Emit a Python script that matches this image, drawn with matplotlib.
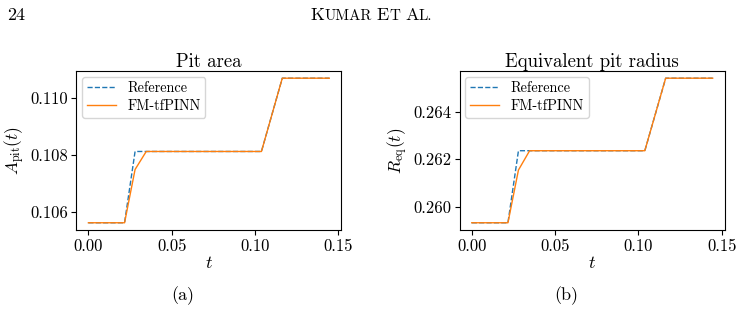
import numpy as np
import matplotlib
matplotlib.use("Agg")
import matplotlib.pyplot as plt

plt.rcParams['font.family'] = 'serif'
plt.rcParams['font.serif'] = ['cmr10', 'DejaVu Serif']
plt.rcParams['mathtext.fontset'] = 'cm'
plt.rcParams['axes.formatter.use_mathtext'] = True
plt.rcParams['axes.unicode_minus'] = False

# values
t_ref = [0.0, 0.0217, 0.028, 0.1038, 0.1163, 0.1445]
t_fm = [0.0, 0.0217, 0.028, 0.0347, 0.1038, 0.1163, 0.1445]

area_ref = [0.10563, 0.10563, 0.10812, 0.10812, 0.11068, 0.11068]
area_fm = [0.10563, 0.10563, 0.10749, 0.10812, 0.10812, 0.11068, 0.11068]

radius_ref = [0.25934, 0.25934, 0.26236, 0.26236, 0.26540, 0.26540]
radius_fm = [0.25934, 0.25934, 0.26155, 0.26236, 0.26236, 0.26540, 0.26540]

xticks = [0.00, 0.05, 0.10, 0.15]
area_ticks = [0.106, 0.108, 0.110]
radius_ticks = [0.260, 0.262, 0.264]

fig = plt.figure(figsize=(7.44, 3.11), dpi=100)
ax1 = fig.add_axes([0.1026, 0.2605, 0.3562, 0.5113])
ax2 = fig.add_axes([0.6179, 0.2605, 0.3562, 0.5113])

panels = [
    (ax1, area_ref, area_fm, area_ticks, "Pit area", r"$A_{\mathrm{pit}}(t)$"),
    (ax2, radius_ref, radius_fm, radius_ticks, "Equivalent pit radius", r"$R_{\mathrm{eq}}(t)$"),
]

for ax, yref, yfm, yt, title, ylab in panels:
    ax.plot(t_ref, yref, ls='--', c='#1f77b4', lw=1.0, label="Reference")
    ax.plot(t_fm, yfm, c='#ff7f0e', lw=1.0, label="FM-tfPINN")
    ax.set_xticks(xticks)
    ax.set_xticklabels(["0.00", "0.05", "0.10", "0.15"])
    ax.set_yticks(yt)
    ax.set_yticklabels(["%.3f" % v for v in yt])
    ax.tick_params(labelsize=12, length=3.5, pad=2.5)
    ax.set_title(title, fontsize=13.5, pad=3)
    ax.set_xlabel(r"$t$", fontsize=13, labelpad=1)
    ax.set_ylabel(ylab, fontsize=12.5, labelpad=2)
    ax.legend(loc='upper left', fontsize=10.3, handlelength=2.0,
              borderaxespad=0.4, labelspacing=0.25, borderpad=0.35)

# page number and running head (small caps faked with two sizes)
fig.text(0.009, 0.936, "24", fontsize=13, va='baseline', ha='left')

renderer = fig.canvas.get_renderer()
pieces = [("K", 13), ("UMAR", 10.8), (None, 5), ("E", 13), ("T", 10.8), (None, 5), ("A", 13), ("L.", 10.8)]
x = 0.4176
for s, fs in pieces:
    if s is None:
        x += fs / 744.0
        continue
    tx = fig.text(x, 0.936, s, fontsize=fs, va='baseline', ha='left')
    x = tx.get_window_extent(renderer).x1 / fig.bbox.width

# sub-figure captions
fig.text(0.246, 0.05, "(a)", fontsize=13, va='center', ha='center')
fig.text(0.761, 0.05, "(b)", fontsize=13, va='center', ha='center')

fig.savefig("out.png", dpi=100)
